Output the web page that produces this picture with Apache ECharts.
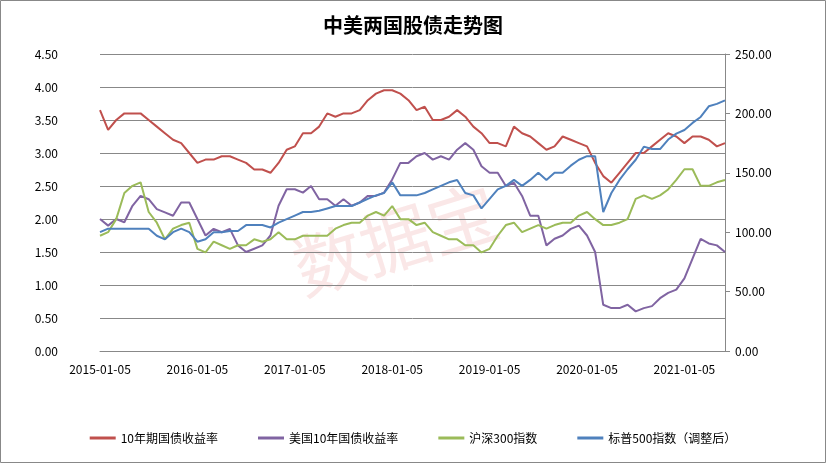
<!DOCTYPE html>
<html><head><meta charset="utf-8">
<script src="https://cdn.jsdelivr.net/npm/echarts@6/dist/echarts.min.js"></script>
<style>html,body{margin:0;padding:0;background:#fff}#c{width:826px;height:463px}</style>
</head><body><div id="c"></div>
<script>
const dates = [];
for (let y = 2015; y <= 2021; y++) for (let m = 1; m <= 12; m++) {
  if (y === 2021 && m > 6) break;
  dates.push(y + '-' + String(m).padStart(2,'0') + '-05');
}
const cn10y = [3.65,3.35,3.5,3.6,3.6,3.6,3.5,3.4,3.3,3.2,3.15,3.0,
 2.85,2.9,2.9,2.95,2.95,2.9,2.85,2.75,2.75,2.7,2.85,3.05,
 3.1,3.3,3.3,3.4,3.6,3.55,3.6,3.6,3.65,3.8,3.9,3.95,
 3.95,3.9,3.8,3.65,3.7,3.5,3.5,3.55,3.65,3.55,3.4,3.3,
 3.15,3.15,3.1,3.4,3.3,3.25,3.15,3.05,3.1,3.25,3.2,3.15,
 3.1,2.85,2.65,2.55,2.7,2.85,3.0,3.0,3.1,3.2,3.3,3.25,
 3.15,3.25,3.25,3.2,3.1,3.15];
const us10y = [2.0,1.9,2.0,1.95,2.2,2.35,2.3,2.15,2.1,2.05,2.25,2.25,
 2.0,1.75,1.85,1.8,1.85,1.6,1.5,1.55,1.6,1.75,2.2,2.45,
 2.45,2.4,2.5,2.3,2.3,2.2,2.3,2.2,2.25,2.35,2.35,2.4,
 2.6,2.85,2.85,2.95,3.0,2.9,2.95,2.9,3.05,3.15,3.05,2.8,
 2.7,2.7,2.5,2.55,2.35,2.05,2.05,1.6,1.7,1.75,1.85,1.9,
 1.75,1.5,0.7,0.65,0.65,0.7,0.6,0.65,0.68,0.8,0.88,0.93,
 1.1,1.4,1.7,1.63,1.6,1.5];
const csi300 = [97,100,111,133,139,142,117,108,94,103,106,108,
 86,83,92,89,86,89,89,94,92,94,100,94,
 94,97,97,97,97,103,106,108,108,114,117,114,
 122,111,111,106,108,100,97,94,94,89,89,83,
 86,97,106,108,100,103,106,103,106,108,108,114,
 117,111,106,106,108,111,128,131,128,131,136,144,
 153,153,139,139,142,144];
const spx = [100,103,103,103,103,103,103,97,94,100,103,100,
 92,94,100,100,101,101,106,106,106,104,108,111,
 114,117,117,118,120,122,122,122,125,128,131,133,
 142,131,131,131,133,136,139,142,144,133,131,120,
 128,136,139,144,139,144,150,144,150,150,156,161,
 164,164,117,133,144,153,161,172,170,170,178,183,
 186,192,197,206,208,211];
const names = ['10年期国债收益率','美国10年国债收益率','沪深300指数','标普500指数（调整后）'];
const colors = ['#C0504D','#8064A2','#9BBB59','#4F81BD'];
const font = '"Noto Sans CJK SC", sans-serif';
const chart = echarts.init(document.getElementById('c'));
const mk = (i, data, axis) => ({name: names[i], type:'line', yAxisIndex: axis, data, symbol:'none',
  lineStyle:{width:2, color: colors[i]}, itemStyle:{color: colors[i]}});
chart.setOption({
  animation:false,
  title:{text:'中美两国股债走势图', left:'center', top:10, textStyle:{fontFamily:font, fontSize:20, fontWeight:'bold', color:'#000'}},
  graphic:[
    {type:'rect', shape:{x:0.5,y:0.5,width:825,height:462}, style:{fill:'none', stroke:'#888'}},
    {type:'text', left:285, top:175, rotation:0.3, z:-1, style:{text:'数据宝', fontSize:70, fontFamily:font, fill:'rgba(230,120,120,0.18)'}}
  ],
  grid:{left:100, right:101, top:54, bottom:112},
  legend:{bottom:14, itemWidth:26, itemHeight:3, itemGap:40, icon:'rect', textStyle:{fontFamily:font, fontSize:12, color:'#000'}, data:names},
  xAxis:{type:'category', data:dates, boundaryGap:false,
    axisLine:{lineStyle:{color:'#888'}}, axisTick:{show:false},
    axisLabel:{interval:(i,v)=>v.slice(5,7)==='01', formatter:v=>v.slice(0,4)+'-01-05', fontFamily:font, fontSize:12, color:'#000', margin:12},
    splitLine:{show:false}},
  yAxis:[
    {type:'value', min:0, max:4.5, interval:0.5, axisLabel:{formatter:v=>v.toFixed(2), fontFamily:font, fontSize:12, color:'#000', margin:42},
     axisLine:{show:false}, axisTick:{show:false}, splitLine:{lineStyle:{color:'#888'}}},
    {type:'value', min:0, max:250, interval:50, axisLabel:{formatter:v=>v.toFixed(2), fontFamily:font, fontSize:12, color:'#000', margin:10},
     axisLine:{show:true, lineStyle:{color:'#888'}}, axisTick:{show:true, length:5, lineStyle:{color:'#888'}}, splitLine:{show:false}}
  ],
  series:[mk(0,cn10y,0), mk(1,us10y,0), mk(2,csi300,1), mk(3,spx,1)]
});
</script></body></html>
